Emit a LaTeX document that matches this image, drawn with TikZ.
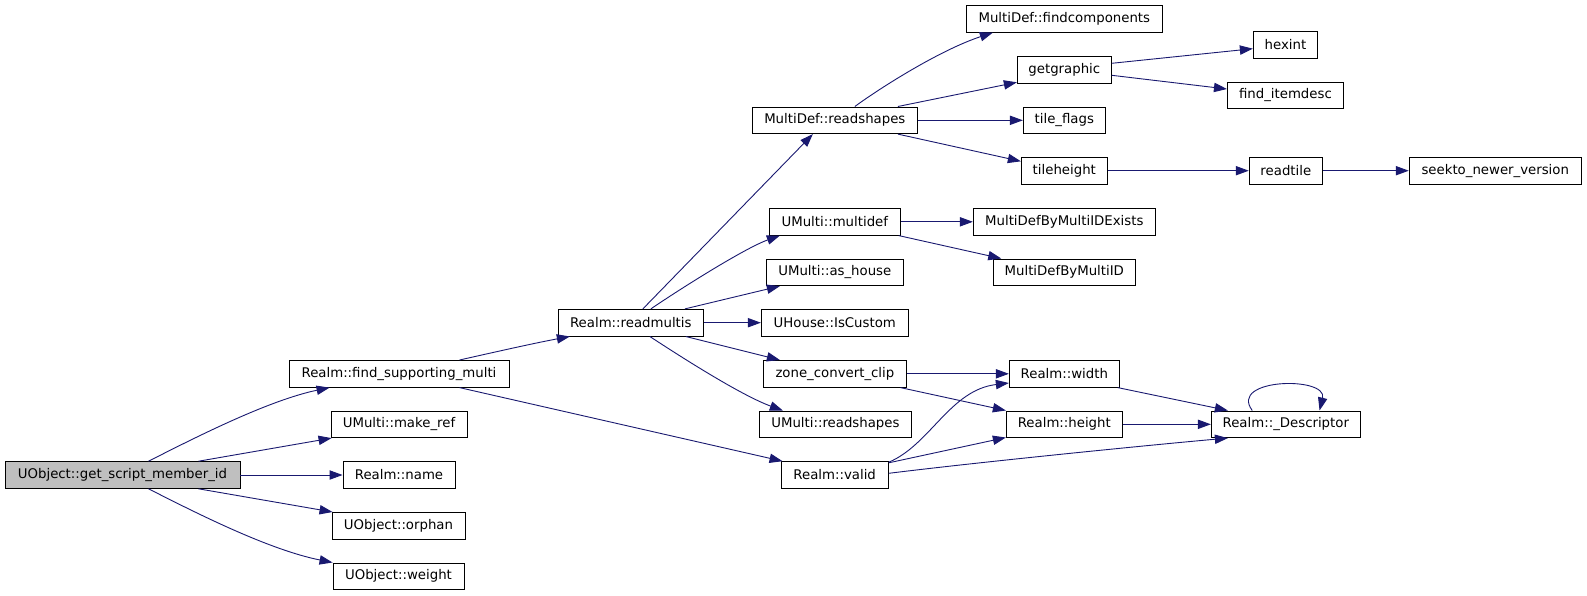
\documentclass[tikz,border=0pt]{standalone}
\usepackage{fontspec}
\setmainfont{DejaVu Sans}
\usetikzlibrary{arrows.meta}
\definecolor{edgec}{HTML}{191970}
\definecolor{grayfill}{HTML}{BFBFBF}
\begin{document}
\begin{tikzpicture}[x=1pt,y=-1pt,
  box/.style={draw=black, line width=0.9pt, minimum height=26.7pt, inner sep=0pt,
    font=\fontsize{13.3}{15}\selectfont, fill=white},
  edge/.style={draw=edgec, line width=0.9pt, -{Triangle[length=13pt,width=9.3pt]}}]
\fill[white] (0,0) rectangle (1587,595);
\useasboundingbox (0,0) rectangle (1587,595);

% nodes
\node[box, minimum width=235pt, fill=grayfill] (uobj) at (122.5,475) {UObject::get\_script\_member\_id};
\node[box, minimum width=220pt] (fsm) at (399,373.8) {Realm::find\_supporting\_multi};
\node[box, minimum width=136pt] (mkref) at (399,424.3) {UMulti::make\_ref};
\node[box, minimum width=112pt] (name) at (399,475) {Realm::name};
\node[box, minimum width=133pt] (orphan) at (398.5,525.8) {UObject::orphan};
\node[box, minimum width=131pt] (weight) at (398.5,576.3) {UObject::weight};
\node[box, minimum width=145pt] (rmulti) at (630.8,322.7) {Realm::readmultis};
\node[box, minimum width=165pt] (mdrs) at (834.8,120.3) {MultiDef::readshapes};
\node[box, minimum width=131pt] (mdef) at (834.8,221.8) {UMulti::multidef};
\node[box, minimum width=137pt] (ashouse) at (834.8,272.3) {UMulti::as\_house};
\node[box, minimum width=147pt] (iscustom) at (834.8,322.7) {UHouse::IsCustom};
\node[box, minimum width=143.2pt] (zcc) at (834.9,373.8) {zone\_convert\_clip};
\node[box, minimum width=152.2pt] (umrs) at (835.4,424.3) {UMulti::readshapes};
\node[box, minimum width=107.3pt] (valid) at (834.65,475) {Realm::valid};
\node[box, minimum width=196pt] (findc) at (1064.3,18.8) {MultiDef::findcomponents};
\node[box, minimum width=94pt] (getg) at (1064.3,69.8) {getgraphic};
\node[box, minimum width=82pt] (tflags) at (1064.3,120.3) {tile\_flags};
\node[box, minimum width=86pt] (theight) at (1064.3,170.7) {tileheight};
\node[box, minimum width=182pt] (exists) at (1064.3,221.8) {MultiDefByMultiIDExists};
\node[box, minimum width=142pt] (mdbid) at (1064.3,272.3) {MultiDefByMultiID};
\node[box, minimum width=110pt] (width) at (1064.3,373.8) {Realm::width};
\node[box, minimum width=116pt] (height) at (1064.3,424.3) {Realm::height};
\node[box, minimum width=149pt] (desc) at (1285.8,424.3) {Realm::\_Descriptor};
\node[box, minimum width=64.2pt] (hexint) at (1285.4,44.7) {hexint};
\node[box, minimum width=116pt] (fitem) at (1285.4,95.4) {find\_itemdesc};
\node[box, minimum width=73.3pt] (rtile) at (1285.85,170.7) {readtile};
\node[box, minimum width=172.1pt] (seekto) at (1495.25,170.7) {seekto\_newer\_version};

% edges
\draw[edge] ([xshift=144pt]uobj.north west) .. controls (200,435) and (270,400) .. ([xshift=41pt]fsm.south west);
\draw[edge] ([xshift=194pt]uobj.north west) -- ([xshift=1pt]mkref.south west);
\draw[edge] (uobj.east) -- (name.west);
\draw[edge] ([xshift=194pt]uobj.south west) -- ([xshift=1pt]orphan.north west);
\draw[edge] ([xshift=144pt]uobj.south west) .. controls (200,515) and (270,550) .. (weight.north west);

\draw[edge] ([xshift=171pt]fsm.north west) .. controls (495,352) and (535,343) .. ([xshift=12pt]rmulti.south west);
\draw[edge] ([xshift=171pt]fsm.south west) -- ([xshift=2pt]valid.north west);

\draw[edge] ([xshift=85pt]rmulti.north west) -- ([xshift=61pt]mdrs.south west);
\draw[edge] ([xshift=93pt]rmulti.north west) .. controls (680,289) and (745,248) .. ([xshift=11pt]mdef.south west);
\draw[edge] ([xshift=127pt]rmulti.north west) -- ([xshift=14pt]ashouse.south west);
\draw[edge] (rmulti.east) -- (iscustom.west);
\draw[edge] ([xshift=128pt]rmulti.south west) -- ([xshift=17pt]zcc.north west);
\draw[edge] ([xshift=92pt]rmulti.south west) .. controls (675,353) and (740,395) .. ([xshift=24pt]umrs.north west);

\draw[edge] ([xshift=103pt]mdrs.north west) .. controls (880,88) and (940,50) .. ([xshift=27pt]findc.south west);
\draw[edge] ([xshift=146pt]mdrs.north west) -- ([yshift=1.3pt]getg.south west);
\draw[edge] (mdrs.east) -- (tflags.west);
\draw[edge] ([xshift=146pt]mdrs.south west) -- ([yshift=-4.4pt]theight.north west);

\draw[edge] ([yshift=6.5pt]getg.east) -- ([yshift=-4pt]hexint.west);
\draw[edge] ([yshift=-5.5pt]getg.east) -- ([yshift=6.4pt]fitem.west);
\draw[edge] (theight.east) -- (rtile.west);
\draw[edge] (rtile.east) -- (seekto.west);

\draw[edge] (mdef.east) -- (exists.west);
\draw[edge] ([xshift=-2pt]mdef.south east) -- ([xshift=8.4pt]mdbid.north west);

\draw[edge] (zcc.east) -- (width.west);
\draw[edge] ([xshift=-6.5pt]zcc.south east) -- (height.north west);
\draw[edge] ([yshift=-1pt]valid.north east) .. controls (930,445) and (950,390) .. ([yshift=4.6pt]width.south west);
\draw[edge] ([yshift=-1.6pt]valid.north east) -- ([yshift=0.6pt]height.south west);
\draw[edge] ([yshift=1.7pt]valid.east) .. controls (980,462) and (1150,445) .. ([xshift=17pt]desc.south west);
\draw[edge] ([xshift=-2pt]width.south east) -- ([xshift=17pt]desc.north west);
\draw[edge] (height.east) -- (desc.west);
\draw[edge] ([xshift=41.4pt]desc.north west) .. controls (1228,378) and (1328,376) .. ([xshift=108.7pt]desc.north west);
\end{tikzpicture}
\end{document}
